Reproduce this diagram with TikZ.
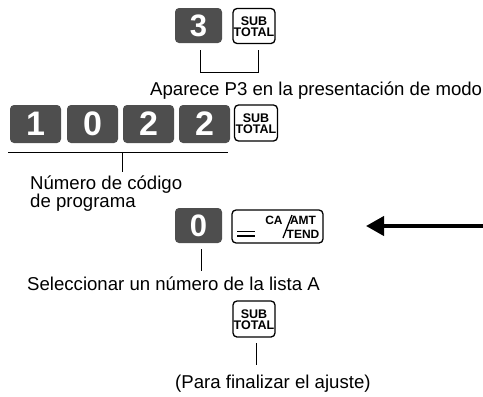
\documentclass[tikz,border=0pt]{standalone}
\usepackage{fontspec}
\setmainfont{Liberation Sans}
\usetikzlibrary{arrows.meta}
\definecolor{keygray}{RGB}{78,78,78}
\tikzset{
  dkey/.style={fill=keygray, rounded corners=4pt, text=white, inner sep=0pt,
    font=\fontsize{31}{31}\selectfont\bfseries, minimum width=47pt, minimum height=35pt},
  bigkey/.style={dkey, minimum width=51pt, minimum height=38pt, font=\fontsize{34}{34}\selectfont\bfseries},
  skey/.style={draw, line width=1.3pt, rounded corners=4pt, inner sep=0pt,
    minimum width=42pt, minimum height=35pt},
  kt/.style={inner sep=0pt, text height=9pt, text depth=0pt, font=\fontsize{12.5}{12}\selectfont\bfseries},
  lbl/.style={inner sep=0pt, anchor=base west, font=\fontsize{18.6}{19}\selectfont},
  small/.style={inner sep=0pt, text height=8.5pt, text depth=0pt, font=\fontsize{12}{12}\selectfont\bfseries},
  ln/.style={line width=0.9pt}
}
\begin{document}
\begin{tikzpicture}[x=1pt,y=-1pt]
\useasboundingbox (0,0) rectangle (483,397);
% row 1
\node[dkey] (k3) at (198.5,25.5) {3};
\node[skey] (s1) at (254,26) {};
\node[kt] (s1a) at ([yshift=5.5pt]s1.center) {SUB};
\node[kt] (s1b) at ([yshift=-5.5pt]s1.center) {TOTAL};
\coordinate (b1) at (200,50);
\coordinate (b2) at (258,50);
\draw[ln] (b1) -- ++(0,22) -| (b2);
\node[lbl] (t1) at (150,95) {Aparece P3 en la presentación de modo};
% row 2
\node[bigkey] (r1) at (35.5,124) {1};
\node[bigkey] (r2) at (92.5,124) {0};
\node[bigkey] (r3) at (148.5,124) {2};
\node[bigkey] (r4) at (204.5,124) {2};
\node[skey, minimum width=43pt, minimum height=36pt] (s2) at (256,123) {};
\node[kt] (s2a) at ([yshift=5.5pt]s2.center) {SUB};
\node[kt] (s2b) at ([yshift=-5.5pt]s2.center) {TOTAL};
\coordinate (u1) at (8,152);
\coordinate (u2) at (228,152);
\coordinate (u3) at (122,152);
\coordinate (u4) at (122,172);
\draw[ln] (u1) -- (u2);
\draw[ln] (u3) -- (u4);
\node[lbl] (t2a) at (30,189) {Número de código};
\node[lbl] (t2b) at (30,207) {de programa};
% row 3
\node[dkey] (k0) at (198.5,225.5) {0};
\node[skey, minimum width=91pt, minimum height=33pt] (ca) at (277.5,226.5) {};
\coordinate (e1) at (237,231.5);
\coordinate (e2) at (255,231.5);
\coordinate (e3) at (237,236);
\coordinate (e4) at (255,236);
\draw[line width=1.6pt] (e1) -- (e2) (e3) -- (e4);
\node[small] (caT) at (274,220) {CA};
\node[small] (amt) at (303,220) {AMT};
\node[small] (tend) at (303,234) {TEND};
\coordinate (sl1) at (283,238);
\coordinate (sl2) at (292,215);
\draw[line width=1.3pt] (sl1) -- (sl2);
\coordinate (astart) at (483,226);
\coordinate (aend) at (366,226);
\draw[line width=4pt, -{Triangle[length=18pt,width=19pt]}] (astart) -- (aend);
\coordinate (v1) at (201,249);
\coordinate (v2) at (201,271);
\draw[ln] (v1) -- (v2);
\node[lbl] (t3) at (27,290) {Seleccionar un número de la lista A};
% row 4
\node[skey, minimum height=36pt] (s3) at (254,319) {};
\node[kt] (s3a) at ([yshift=5.5pt]s3.center) {SUB};
\node[kt] (s3b) at ([yshift=-5.5pt]s3.center) {TOTAL};
\coordinate (w1) at (256,343);
\coordinate (w2) at (256,365);
\draw[ln] (w1) -- (w2);
\node[lbl] (t4) at (175,388) {(Para finalizar el ajuste)};
\end{tikzpicture}
\end{document}
